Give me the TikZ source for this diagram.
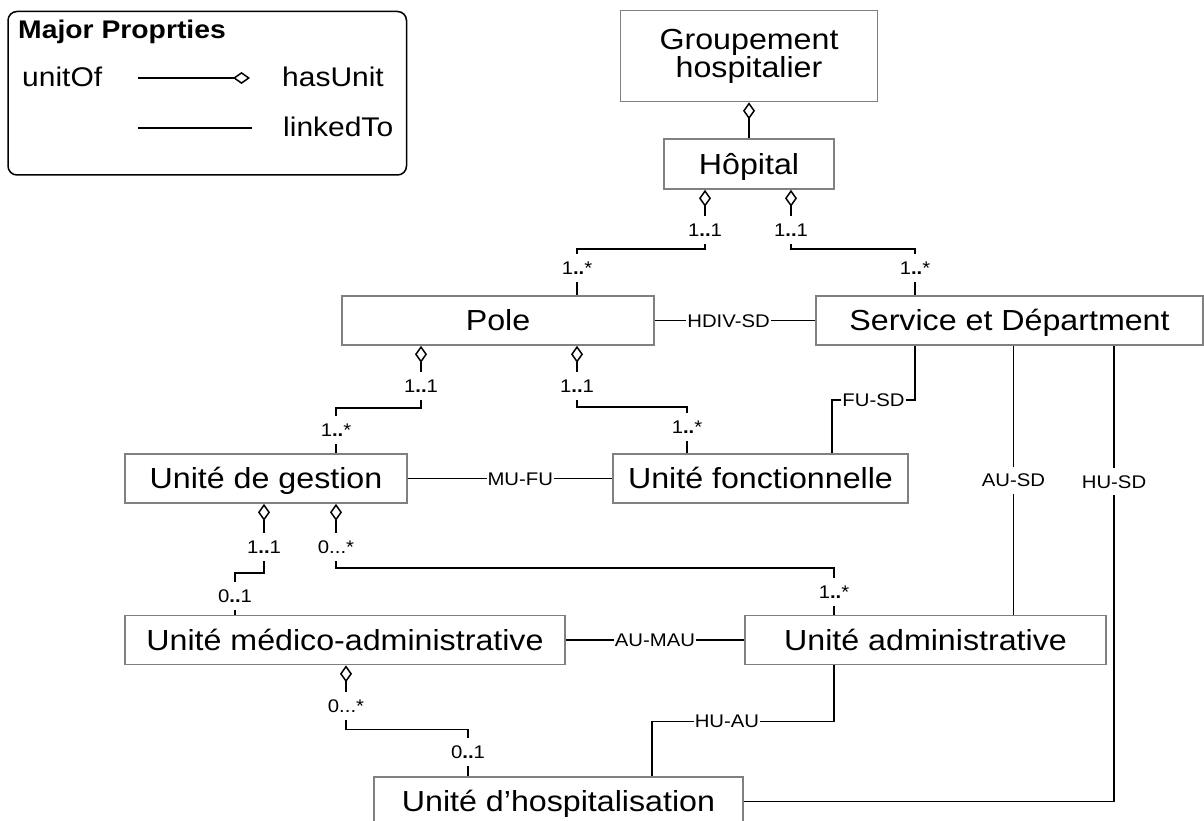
\documentclass[tikz,border=0pt]{standalone}
\usepackage{fontspec}
\setmainfont[FakeStretch=1.11]{Liberation Sans}
\usetikzlibrary{arrows.meta}
\tikzset{
  box/.style={draw=black!50, line width=1.6pt, inner sep=0pt, font=\fontsize{29}{27}\selectfont},
  unit/.style={box, minimum height=49pt, text height=20.9pt, text depth=0pt},
  mult/.style={fill=white, inner xsep=1pt, inner ysep=7pt, font=\fontsize{18.3}{20}\selectfont, text height=13.1pt, text depth=0pt},
  key/.style={anchor=west, inner sep=0pt, font=\fontsize{27}{30}\selectfont},
  has/.style={line width=1.5pt, arrows={Diamond[open,length=17pt,width=12pt]-}},
  link/.style={line width=1.5pt}
}
\newcommand{\dd}{{\bfseries..}}

\begin{document}
\begin{tikzpicture}[x=1pt,y=-1pt]
\useasboundingbox (0,0) rectangle (1204,821);
%\draw [help lines,step=100] (0,0) grid (1204,821);
% legend
\draw [line width=1.5pt, rounded corners=9pt] (8,11.5) rectangle (406.5,175);
\node [anchor=base west, inner sep=0pt, font=\bfseries\fontsize{25.5}{30}\selectfont] (title) at (18,39) {Major Proprties};
\node [key] (unitof) at (22,77) {unitOf};
\node [key] (hasunit) at (282,77) {hasUnit};
\node [key] (linkedto) at (283,127) {linkedTo};
\draw [link, -{Diamond[open,length=17pt,width=12pt]}] (138,78) -- (250,78);
\draw [link] (138,128) -- (252,128);
% units
\node [box, minimum width=257pt, minimum height=91pt, align=center] (grp) at (749,56) {Groupement\\hospitalier};
\node [unit, minimum width=170pt, minimum height=50pt] (hop) at (749,164) {Hôpital};
\node [unit, minimum width=312pt] (pole) at (498,320.5) {Pole};
\node [unit, minimum width=387pt] (sd) at (1009.5,320.5) {Service et Départment};
\node [unit, minimum width=282pt] (ug) at (266,478.5) {Unité de gestion};
\node [unit, minimum width=295pt] (uf) at (760.5,478.5) {Unité fonctionnelle};
\node [unit, minimum width=440pt] (uma) at (345,640) {Unité médico-administrative};
\node [unit, minimum width=361pt] (ua) at (925.5,640) {Unité administrative};
\node [unit, minimum width=369pt] (uh) at (558.5,801.5) {Unité d’hospitalisation};
% hasUnit
\draw [has] (grp.south) -- (hop.north);
\draw [has] ([xshift=-44pt]hop.south) -- ++(0,59) -| ([xshift=79pt]pole.north);
\draw [has] ([xshift=42pt]hop.south) -- ++(0,59) -| ([xshift=-94.5pt]sd.north);
\draw [has] ([xshift=-77pt]pole.south) -- ++(0,62) -| ([xshift=70pt]ug.north);
\draw [has] ([xshift=79pt]pole.south) -- ++(0,61) -| ([xshift=-73.5pt]uf.north);
\draw [has] ([xshift=-2pt]ug.south) -- ++(0,69) -| ([xshift=-110pt]uma.north);
\draw [has] ([xshift=70pt]ug.south) -- ++(0,64) -| ([xshift=-91.5pt]ua.north);
\draw [has] ([xshift=1pt]uma.south) -- ++(0,64) -| ([xshift=-90.5pt]uh.north);
\node [mult] at (705,230) {1\dd1};
\node [mult] at (577,268) {1\dd*};
\node [mult] at (791,230) {1\dd1};
\node [mult] at (915,268) {1\dd*};
\node [mult] at (421,386) {1\dd1};
\node [mult] at (336,430) {1\dd*};
\node [mult] at (577,386) {1\dd1};
\node [mult] at (687,427) {1\dd*};
\node [mult] at (264,547) {1\dd1};
\node [mult] at (235,596) {0\dd1};
\node [mult] at (336,547) {0...*};
\node [mult] at (834,592) {1\dd*};
\node [mult] at (346,706) {0...*};
\node [mult] at (468,752) {0\dd1};
% linkedTo
\draw [link] (pole) -- node [mult, pos=0.46] {HDIV-SD} (sd);
\draw [link] (ug) -- node [mult, pos=0.55] {MU-FU} (uf);
\draw [link] (uma) -- node [mult] {AU-MAU} (ua);
\draw [link] ([xshift=-94.5pt]sd.south) -- ++(0,54) -| node [mult, pos=0.25] {FU-SD} ([xshift=71.5pt]uf.north);
\draw [link] ([xshift=4pt]sd.south) -- node [mult] {AU-SD} ([xshift=88pt]ua.north);
\draw [link] ([xshift=104.5pt]sd.south) |- node [mult, pos=0.149] {HU-SD} (uh.east);
\draw [link] ([xshift=-91.5pt]ua.south) -- ++(0,56) -| node [mult, pos=0.294] {HU-AU} ([xshift=93.5pt]uh.north);
\end{tikzpicture}
\end{document}
